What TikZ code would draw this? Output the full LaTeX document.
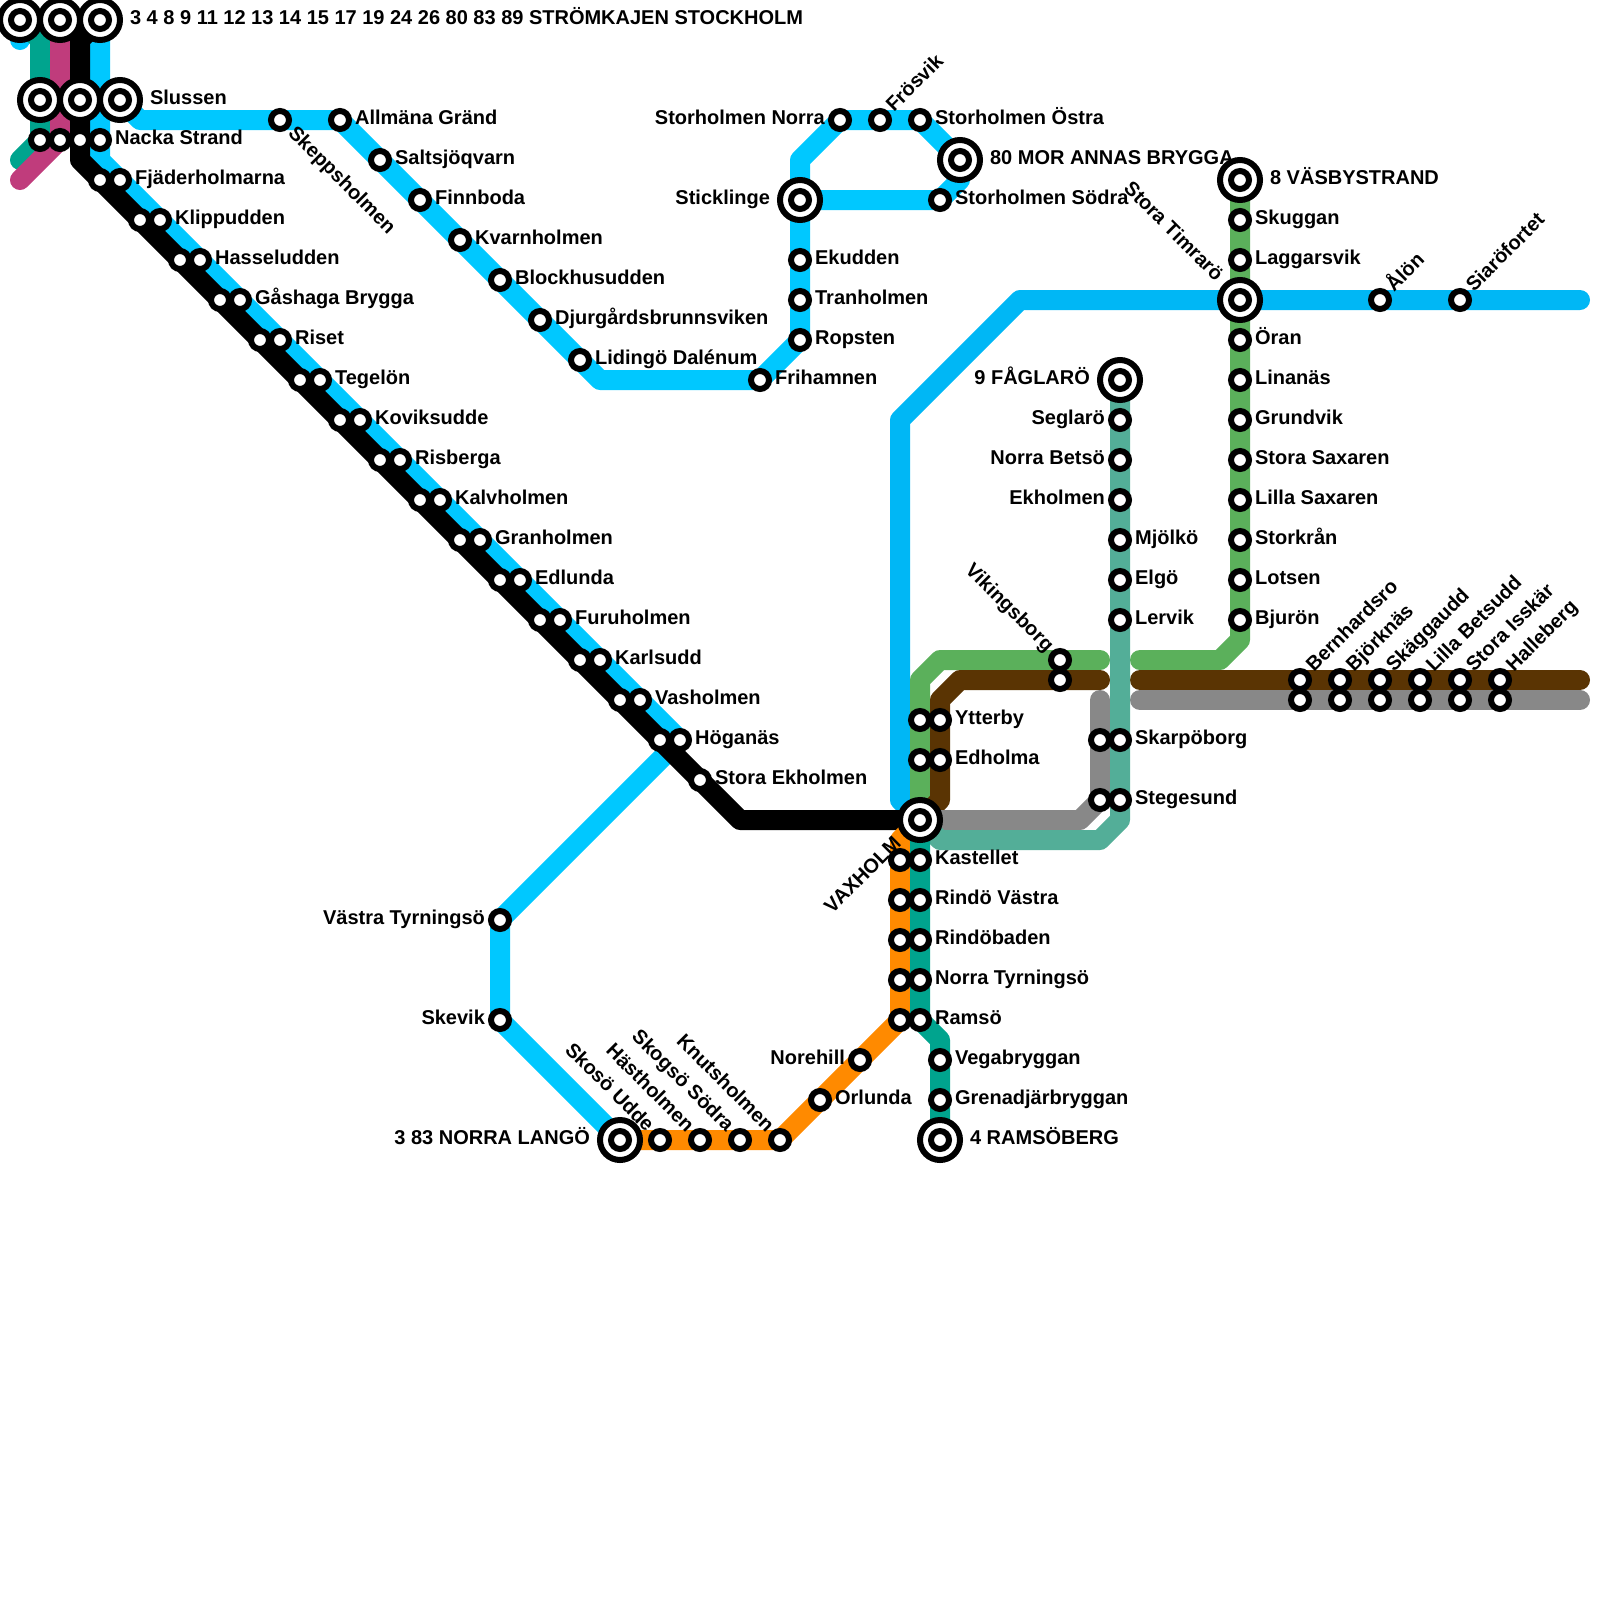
\documentclass[tikz,border=0pt]{standalone}
\usepackage{fontspec}
\setmainfont{Liberation Sans}
\usetikzlibrary{calc, positioning, backgrounds}

\definecolor{lineCyan}{HTML}{00C8FF}
\definecolor{lineDeep}{HTML}{00B7F5}
\definecolor{lineTeal}{HTML}{00A48E}
\definecolor{lineMagenta}{HTML}{C03C7C}
\definecolor{lineGreen}{HTML}{5BB05B}
\definecolor{lineBrown}{HTML}{5A3403}
\definecolor{lineGrey}{HTML}{888888}
\definecolor{lineSea}{HTML}{53AE98}
\definecolor{lineOrange}{HTML}{FF8A00}

\begin{document}
\begin{tikzpicture}[x=2.5mm, y=-2.5mm]
        \tikzstyle{route} = [line width=2.5mm, line cap=round, line join=round]
        \tikzstyle{stop} = [circle, draw=black, fill=white, line width=0.75mm, minimum size=2.25mm, inner sep=0pt, outer sep=0pt]
        \tikzstyle{hub} = [stop, minimum size=5mm, path picture={\draw[line width=0.75mm, fill=white] (path picture bounding box.center) circle (1.125mm);}]
        \tikzstyle{txt} = [inner sep=0pt, font=\bfseries\fontsize{7.11pt}{8pt}\selectfont]
        \tikzstyle{toright} = [txt, anchor=base west, xshift=1.82mm, yshift=-0.6mm]
        \tikzstyle{toleft} = [txt, anchor=base east, xshift=-1.82mm, yshift=-0.6mm]
        \tikzstyle{hubright} = [txt, anchor=base west, xshift=3.69mm, yshift=-0.6mm]
        \tikzstyle{hubleft} = [txt, anchor=base east, xshift=-3.69mm, yshift=-0.6mm]
        \tikzstyle{upright} = [rotate=45, toright]
        \tikzstyle{downright} = [rotate=-45, toright]
        \tikzstyle{downend} = [rotate=-45, toleft]

        \useasboundingbox (0,0) rectangle (80,80);

        % terminals top left
        \node[hub] (hubA) at (1,1) {};
        \node[hub] (hubB) at (3,1) {};
        \node[hub] (hubC) at (5,1) {};
        \node[hubright] (hubCt) at (hubC) {3 4 8 9 11 12 13 14 15 17 19 24 26 80 83 89 STRÖMKAJEN STOCKHOLM};
        \node[hub] (hubD) at (2,5) {};
        \node[hub] (hubE) at (4,5) {};
        \node[hub] (slussen) at (6,5) {};
        \node[hubright] (slussent) at (slussen) {Slussen};
        \node[stop] (rowA) at (2,7) {};
        \node[stop] (rowB) at (3,7) {};
        \node[stop] (rowC) at (4,7) {};
        \node[stop] (nacka) at (5,7) {};
        \node[toright] (nackat) at (nacka) {Nacka Strand};

        % long diagonal, black side
        \node[stop] (bk0) at (5,9) {};
        \node[stop] (bk1) at (7,11) {};
        \node[stop] (bk2) at (9,13) {};
        \node[stop] (bk3) at (11,15) {};
        \node[stop] (bk4) at (13,17) {};
        \node[stop] (bk5) at (15,19) {};
        \node[stop] (bk6) at (17,21) {};
        \node[stop] (bk7) at (19,23) {};
        \node[stop] (bk8) at (21,25) {};
        \node[stop] (bk9) at (23,27) {};
        \node[stop] (bk10) at (25,29) {};
        \node[stop] (bk11) at (27,31) {};
        \node[stop] (bk12) at (29,33) {};
        \node[stop] (bk13) at (31,35) {};
        \node[stop] (bk14) at (33,37) {};
        \node[stop] (ekholmenS) at (35,39) {};
        \node[toright] (ekholmenSt) at (ekholmenS) {Stora Ekholmen};

        % long diagonal, cyan side
        \node[stop] (fjader) at (6,9) {};
        \node[toright] (fjadert) at (fjader) {Fjäderholmarna};
        \node[stop] (klipp) at (8,11) {};
        \node[toright] (klippt) at (klipp) {Klippudden};
        \node[stop] (hassel) at (10,13) {};
        \node[toright] (hasselt) at (hassel) {Hasseludden};
        \node[stop] (gashaga) at (12,15) {};
        \node[toright] (gashagat) at (gashaga) {Gåshaga Brygga};
        \node[stop] (riset) at (14,17) {};
        \node[toright] (risett) at (riset) {Riset};
        \node[stop] (tegel) at (16,19) {};
        \node[toright] (tegelt) at (tegel) {Tegelön};
        \node[stop] (kovik) at (18,21) {};
        \node[toright] (kovikt) at (kovik) {Koviksudde};
        \node[stop] (risberga) at (20,23) {};
        \node[toright] (risbergat) at (risberga) {Risberga};
        \node[stop] (kalv) at (22,25) {};
        \node[toright] (kalvt) at (kalv) {Kalvholmen};
        \node[stop] (gran) at (24,27) {};
        \node[toright] (grant) at (gran) {Granholmen};
        \node[stop] (edlunda) at (26,29) {};
        \node[toright] (edlundat) at (edlunda) {Edlunda};
        \node[stop] (furu) at (28,31) {};
        \node[toright] (furut) at (furu) {Furuholmen};
        \node[stop] (karl) at (30,33) {};
        \node[toright] (karlt) at (karl) {Karlsudd};
        \node[stop] (vas) at (32,35) {};
        \node[toright] (vast) at (vas) {Vasholmen};
        \node[stop] (hogan) at (34,37) {};
        \node[toright] (hogant) at (hogan) {Höganäs};

        % upper cyan branch
        \node[stop] (skepp) at (14,6) {};
        \node[downright] (skeppt) at (skepp) {Skeppsholmen};
        \node[stop] (allm) at (17,6) {};
        \node[toright] (allmt) at (allm) {Allmäna Gränd};
        \node[stop] (salt) at (19,8) {};
        \node[toright] (saltt) at (salt) {Saltsjöqvarn};
        \node[stop] (finn) at (21,10) {};
        \node[toright] (finnt) at (finn) {Finnboda};
        \node[stop] (kvarn) at (23,12) {};
        \node[toright] (kvarnt) at (kvarn) {Kvarnholmen};
        \node[stop] (block) at (25,14) {};
        \node[toright] (blockt) at (block) {Blockhusudden};
        \node[stop] (djur) at (27,16) {};
        \node[toright] (djurt) at (djur) {Djurgårdsbrunnsviken};
        \node[stop] (liding) at (29,18) {};
        \node[toright] (lidingt) at (liding) {Lidingö Dalénum};
        \node[stop] (friham) at (38,19) {};
        \node[toright] (frihamt) at (friham) {Frihamnen};
        \node[stop] (ropsten) at (40,17) {};
        \node[toright] (ropstent) at (ropsten) {Ropsten};
        \node[stop] (tran) at (40,15) {};
        \node[toright] (trant) at (tran) {Tranholmen};
        \node[stop] (ekudden) at (40,13) {};
        \node[toright] (ekuddent) at (ekudden) {Ekudden};
        \node[hub] (stick) at (40,10) {};
        \node[hubleft] (stickt) at (stick) {Sticklinge};
        \node[stop] (storN) at (42,6) {};
        \node[toleft] (storNt) at (storN) {Storholmen Norra};
        \node[stop] (fros) at (44,6) {};
        \node[upright] (frost) at (fros) {Frösvik};
        \node[stop] (storO) at (46,6) {};
        \node[toright] (storOt) at (storO) {Storholmen Östra};
        \node[hub] (annas) at (48,8) {};
        \node[hubright] (annast) at (annas) {80 MOR ANNAS BRYGGA};
        \node[stop] (storS) at (47,10) {};
        \node[toright] (storSt) at (storS) {Storholmen Södra};

        % lower cyan branch and orange
        \node[stop] (vastra) at (25,46) {};
        \node[toleft] (vastrat) at (vastra) {Västra Tyrningsö};
        \node[stop] (skevik) at (25,51) {};
        \node[toleft] (skevikt) at (skevik) {Skevik};
        \node[hub] (langoe) at (31,57) {};
        \node[hubleft] (langoet) at (langoe) {3 83 NORRA LANGÖ};
        \node[stop] (skoso) at (33,57) {};
        \node[downend] (skosot) at (skoso) {Skosö Udde};
        \node[stop] (hast) at (35,57) {};
        \node[downend] (hastt) at (hast) {Hästholmen};
        \node[stop] (skogso) at (37,57) {};
        \node[downend] (skogsot) at (skogso) {Skogsö Södra};
        \node[stop] (knut) at (39,57) {};
        \node[downend] (knutt) at (knut) {Knutsholmen};
        \node[stop] (orlunda) at (41,55) {};
        \node[toright] (orlundat) at (orlunda) {Orlunda};
        \node[stop] (nore) at (43,53) {};
        \node[toleft] (noret) at (nore) {Norehill};

        % Vaxholm and the pairs below it
        \node[hub] (vaxholm) at (46,41) {};
        \node[rotate=45, hubleft] (vaxholmt) at (vaxholm) {VAXHOLM};
        \node[stop] (orA) at (45,43) {};
        \node[stop] (kast) at (46,43) {};
        \node[toright] (kastt) at (kast) {Kastellet};
        \node[stop] (orB) at (45,45) {};
        \node[stop] (rindoV) at (46,45) {};
        \node[toright] (rindoVt) at (rindoV) {Rindö Västra};
        \node[stop] (orC) at (45,47) {};
        \node[stop] (rindoB) at (46,47) {};
        \node[toright] (rindoBt) at (rindoB) {Rindöbaden};
        \node[stop] (orD) at (45,49) {};
        \node[stop] (norraT) at (46,49) {};
        \node[toright] (norraTt) at (norraT) {Norra Tyrningsö};
        \node[stop] (orE) at (45,51) {};
        \node[stop] (ramso) at (46,51) {};
        \node[toright] (ramsot) at (ramso) {Ramsö};
        \node[stop] (vega) at (47,53) {};
        \node[toright] (vegat) at (vega) {Vegabryggan};
        \node[stop] (grena) at (47,55) {};
        \node[toright] (grenat) at (grena) {Grenadjärbryggan};
        \node[hub] (ramsob) at (47,57) {};
        \node[hubright] (ramsobt) at (ramsob) {4 RAMSÖBERG};

        % Ytterby pairs and Vikingsborg
        \node[stop] (grA) at (46,36) {};
        \node[stop] (ytter) at (47,36) {};
        \node[toright] (yttert) at (ytter) {Ytterby};
        \node[stop] (grB) at (46,38) {};
        \node[stop] (edholm) at (47,38) {};
        \node[toright] (edholmt) at (edholm) {Edholma};
        \node[stop] (viking) at (53,33) {};
        \node[downend] (vikingt) at (viking) {Vikingsborg};
        \node[stop] (vikingB) at (53,34) {};

        % sea green line
        \node[hub] (fagla) at (56,19) {};
        \node[hubleft] (faglat) at (fagla) {9 FÅGLARÖ};
        \node[stop] (segla) at (56,21) {};
        \node[toleft] (seglat) at (segla) {Seglarö};
        \node[stop] (betso) at (56,23) {};
        \node[toleft] (betsot) at (betso) {Norra Betsö};
        \node[stop] (ekhol) at (56,25) {};
        \node[toleft] (ekholt) at (ekhol) {Ekholmen};
        \node[stop] (mjolk) at (56,27) {};
        \node[toright] (mjolkt) at (mjolk) {Mjölkö};
        \node[stop] (elgo) at (56,29) {};
        \node[toright] (elgot) at (elgo) {Elgö};
        \node[stop] (lervik) at (56,31) {};
        \node[toright] (lervikt) at (lervik) {Lervik};
        \node[stop] (gyA) at (55,37) {};
        \node[stop] (skarp) at (56,37) {};
        \node[toright] (skarpt) at (skarp) {Skarpöborg};
        \node[stop] (gyB) at (55,40) {};
        \node[stop] (stege) at (56,40) {};
        \node[toright] (steget) at (stege) {Stegesund};

        % green line north
        \node[hub] (vasby) at (62,9) {};
        \node[hubright] (vasbyt) at (vasby) {8 VÄSBYSTRAND};
        \node[stop] (skug) at (62,11) {};
        \node[toright] (skugt) at (skug) {Skuggan};
        \node[stop] (lagg) at (62,13) {};
        \node[toright] (laggt) at (lagg) {Laggarsvik};
        \node[hub] (timra) at (62,15) {};
        \node[rotate=-45, hubleft] (timrat) at (timra) {Stora Timrarö};
        \node[stop] (oran) at (62,17) {};
        \node[toright] (orant) at (oran) {Öran};
        \node[stop] (lina) at (62,19) {};
        \node[toright] (linat) at (lina) {Linanäs};
        \node[stop] (grund) at (62,21) {};
        \node[toright] (grundt) at (grund) {Grundvik};
        \node[stop] (saxS) at (62,23) {};
        \node[toright] (saxSt) at (saxS) {Stora Saxaren};
        \node[stop] (saxL) at (62,25) {};
        \node[toright] (saxLt) at (saxL) {Lilla Saxaren};
        \node[stop] (storkr) at (62,27) {};
        \node[toright] (storkrt) at (storkr) {Storkrån};
        \node[stop] (lotsen) at (62,29) {};
        \node[toright] (lotsent) at (lotsen) {Lotsen};
        \node[stop] (bjuron) at (62,31) {};
        \node[toright] (bjuront) at (bjuron) {Bjurön};
        \node[stop] (alon) at (69,15) {};
        \node[upright] (alont) at (alon) {Ålön};
        \node[stop] (siaro) at (73,15) {};
        \node[upright] (siarot) at (siaro) {Siaröfortet};

        % brown and grey pairs east
        \node[stop] (bern) at (65,34) {};
        \node[upright] (bernt) at (bern) {Bernhardsro};
        \node[stop] (bernB) at (65,35) {};
        \node[stop] (bjork) at (67,34) {};
        \node[upright] (bjorkt) at (bjork) {Björknäs};
        \node[stop] (bjorkB) at (67,35) {};
        \node[stop] (skagg) at (69,34) {};
        \node[upright] (skaggt) at (skagg) {Skäggaudd};
        \node[stop] (skaggB) at (69,35) {};
        \node[stop] (lilla) at (71,34) {};
        \node[upright] (lillat) at (lilla) {Lilla Betsudd};
        \node[stop] (lillaB) at (71,35) {};
        \node[stop] (issk) at (73,34) {};
        \node[upright] (isskt) at (issk) {Stora Isskär};
        \node[stop] (isskB) at (73,35) {};
        \node[stop] (halle) at (75,34) {};
        \node[upright] (hallet) at (halle) {Halleberg};
        \node[stop] (halleB) at (75,35) {};

        % bends and free ends
        \coordinate (cyStub) at (1,2);
        \coordinate (teTop) at (2,2);
        \coordinate (teEnd) at (1,8);
        \coordinate (maEnd) at (1,9);
        \coordinate (bkTop) at (4,2);
        \coordinate (bkA) at (4,8);
        \coordinate (bkB) at (37,41);
        \coordinate (cyA) at (5,8);
        \coordinate (cyB) at (34,37);
        \coordinate (cyC) at (7,6);
        \coordinate (cyD) at (30,19);
        \coordinate (cyE) at (40,8);
        \coordinate (cyF) at (48,9);
        \coordinate (deA) at (79,15);
        \coordinate (deB) at (51,15);
        \coordinate (deC) at (45,21);
        \coordinate (deD) at (45,40);
        \coordinate (grC) at (62,32);
        \coordinate (grD) at (61,33);
        \coordinate (grE) at (57,33);
        \coordinate (grF) at (55,33);
        \coordinate (grG) at (47,33);
        \coordinate (grH) at (46,34);
        \coordinate (brA) at (79,34);
        \coordinate (brB) at (57,34);
        \coordinate (brC) at (55,34);
        \coordinate (brD) at (48,34);
        \coordinate (brE) at (47,35);
        \coordinate (brF) at (47,40);
        \coordinate (gyC) at (79,35);
        \coordinate (gyD) at (57,35);
        \coordinate (gyE) at (55,35);
        \coordinate (gyF) at (54,41);
        \coordinate (seA) at (56,41);
        \coordinate (seB) at (55,42);
        \coordinate (seC) at (47,42);
        \coordinate (orTop) at (45,42);
        \coordinate (teF) at (47,52);

        \begin{scope}[on background layer]
            \draw[route, lineCyan] (hubA.center) -- (cyStub);
            \draw[route, lineCyan] (hubC.center) -- (cyA) -- (cyB) -- (vastra.center) -- (skevik.center) -- (langoe.center);
            \draw[route, lineCyan] (slussen.center) -- (cyC) -- (allm.center) -- (cyD) -- (friham.center) -- (ropsten.center) -- (cyE) -- (storN.center) -- (storO.center) -- (annas.center) -- (cyF) -- (storS.center) -- (stick.center);
            \draw[route, lineCyan] (stick.center) -- (ropsten.center);
            \draw[route, lineDeep] (deA) -- (deB) -- (deC) -- (deD) -- (vaxholm.center);
            \draw[route, lineTeal] (hubA.center) -- (teTop) -- (rowA.center) -- (teEnd);
            \draw[route, lineMagenta] (hubB.center) -- (rowB.center) -- (maEnd);
            \draw[route, black] (hubC.center) -- (bkTop) -- (bkA) -- (bkB) -- (vaxholm.center);
            \draw[route, lineGreen] (vasby.center) -- (grC) -- (grD) -- (grE);
            \draw[route, lineGreen] (grF) -- (grG) -- (grH) -- (vaxholm.center);
            \draw[route, lineBrown] (brA) -- (brB);
            \draw[route, lineBrown] (brC) -- (brD) -- (brE) -- (brF) -- (vaxholm.center);
            \draw[route, lineGrey] (gyC) -- (gyD);
            \draw[route, lineGrey] (gyE) -- (gyB.center) -- (gyF) -- (vaxholm.center);
            \draw[route, lineSea] (fagla.center) -- (seA) -- (seB) -- (seC) -- (vaxholm.center);
            \draw[route, lineOrange] (vaxholm.center) -- (orTop) -- (orE.center) -- (knut.center) -- (langoe.center);
            \draw[route, lineTeal] (vaxholm.center) -- (ramso.center) -- (teF) -- (ramsob.center);
        \end{scope}
    \end{tikzpicture}
\end{document}
